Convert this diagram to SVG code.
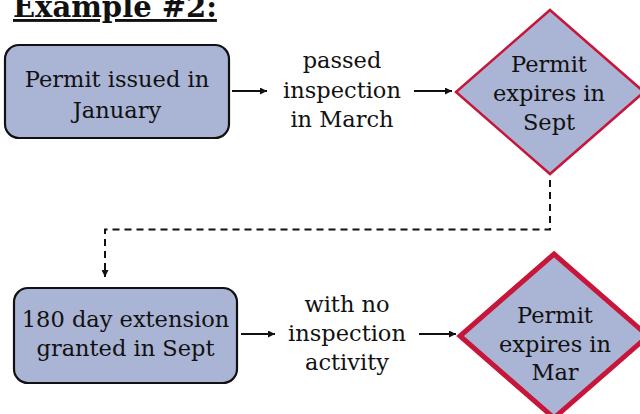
<svg xmlns="http://www.w3.org/2000/svg" width="640" height="414" viewBox="0 0 640 414">
<defs>
<style>
.t{fill:#111;text-anchor:middle;font-size:22.5px}
.title{font-size:29px;font-weight:bold;text-anchor:start;text-decoration:underline}
.box{fill:#AAB4D4;stroke:#111;stroke-width:2.2}
.dia{fill:#AAB4D4;stroke:#C8163A;stroke-width:2.5}
.dia2{fill:#AAB4D4;stroke:#C8163A;stroke-width:5}
.conn{stroke:#111;stroke-width:2;fill:none}
.dash{stroke-dasharray:7 5}
</style>
<marker id="ah" viewBox="0 0 10 10" refX="10" refY="5" markerWidth="9" markerHeight="7" markerUnits="userSpaceOnUse" orient="auto">
<path d="M0,0 L10,5 L0,10 z" fill="#111"/>
</marker>
</defs>
<g font-family="'DejaVu Serif', 'Liberation Serif', serif">
<text class="t title" x="13" y="17">Example #2:</text>
<g id="n1">
<rect class="box" x="5" y="45" width="224" height="93" rx="14"/>
<text class="t" x="117" y="87">Permit issued in</text>
<text class="t" x="117" y="118">January</text>
</g>
<g id="l1">
<text class="t" x="342" y="68">passed</text>
<text class="t" x="342" y="98">inspection</text>
<text class="t" x="342" y="127">in March</text>
</g>
<g id="n2">
<polygon class="dia" points="550,10 644,92 550,174 456,92"/>
<text class="t" x="549" y="72">Permit</text>
<text class="t" x="549" y="101">expires in</text>
<text class="t" x="549" y="130">Sept</text>
</g>
<g id="n3">
<rect class="box" x="14" y="288" width="223" height="95" rx="14"/>
<text class="t" x="125.5" y="327">180 day extension</text>
<text class="t" x="125.5" y="356">granted in Sept</text>
</g>
<g id="l2">
<text class="t" x="347" y="312">with no</text>
<text class="t" x="347" y="341">inspection</text>
<text class="t" x="347" y="370">activity</text>
</g>
<g id="n4">
<polygon class="dia2" points="554,254 648,336 554,418 460,336"/>
<text class="t" x="555" y="323">Permit</text>
<text class="t" x="555" y="352">expires in</text>
<text class="t" x="555" y="380">Mar</text>
</g>
</g>
<g id="connectors">
<line class="conn" x1="232" y1="91" x2="267" y2="91" marker-end="url(#ah)"/>
<line class="conn" x1="414" y1="91" x2="452" y2="91" marker-end="url(#ah)"/>
<path class="conn dash" d="M550,180 V229.5 H105 V277" marker-end="url(#ah)"/>
<line class="conn" x1="241" y1="334" x2="275" y2="334" marker-end="url(#ah)"/>
<line class="conn" x1="419" y1="334" x2="456" y2="334" marker-end="url(#ah)"/>
</g>
</svg>
